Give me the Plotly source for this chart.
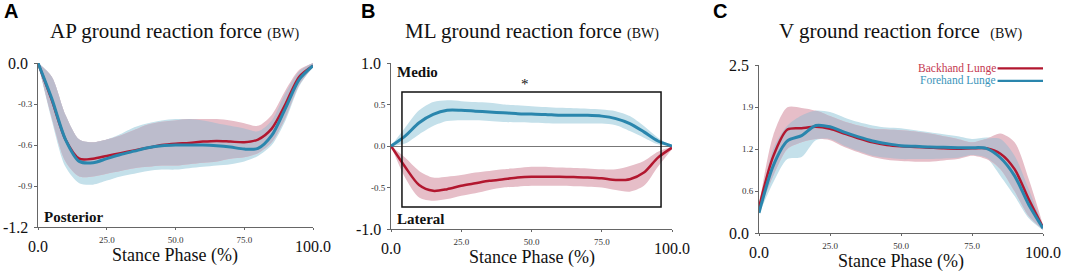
import plotly.graph_objects as go

# ---------------- data ----------------
stance = [0, 5, 10, 15, 20, 25, 30, 35, 40, 45, 50, 55, 60, 65, 70, 75, 80, 85, 90, 95, 100]

# A: AP ground reaction force (BW)
ap_back_mean = [0, -0.27, -0.56, -0.70, -0.70, -0.68, -0.66, -0.64, -0.62, -0.60, -0.59, -0.585, -0.575, -0.57, -0.575, -0.58, -0.56, -0.48, -0.30, -0.10, -0.02]
ap_back_up = [0, -0.10, -0.38, -0.56, -0.58, -0.56, -0.53, -0.49, -0.45, -0.43, -0.42, -0.41, -0.41, -0.41, -0.42, -0.44, -0.46, -0.38, -0.20, -0.05, 0]
ap_back_lo = [0, -0.40, -0.72, -0.83, -0.83, -0.81, -0.79, -0.77, -0.76, -0.75, -0.75, -0.74, -0.73, -0.72, -0.70, -0.69, -0.66, -0.58, -0.40, -0.16, -0.03]
ap_fore_mean = [0, -0.26, -0.56, -0.72, -0.73, -0.70, -0.67, -0.645, -0.62, -0.605, -0.60, -0.60, -0.60, -0.605, -0.615, -0.63, -0.625, -0.53, -0.33, -0.12, -0.02]
ap_fore_up = [0, -0.10, -0.38, -0.56, -0.58, -0.56, -0.52, -0.47, -0.44, -0.42, -0.41, -0.41, -0.42, -0.44, -0.46, -0.48, -0.50, -0.42, -0.22, -0.06, 0]
ap_fore_lo = [0, -0.42, -0.76, -0.88, -0.89, -0.86, -0.83, -0.81, -0.79, -0.78, -0.78, -0.77, -0.76, -0.75, -0.74, -0.72, -0.68, -0.60, -0.42, -0.17, -0.03]

# B: ML ground reaction force (BW)
ml_back_mean = [0, -0.25, -0.47, -0.54, -0.52, -0.48, -0.45, -0.42, -0.40, -0.38, -0.37, -0.37, -0.37, -0.375, -0.38, -0.39, -0.41, -0.40, -0.32, -0.14, -0.02]
ml_back_up = [0, -0.14, -0.30, -0.38, -0.37, -0.35, -0.32, -0.30, -0.28, -0.265, -0.25, -0.25, -0.26, -0.265, -0.27, -0.28, -0.28, -0.24, -0.18, -0.07, -0.01]
ml_back_lo = [0, -0.38, -0.62, -0.66, -0.64, -0.60, -0.57, -0.53, -0.50, -0.49, -0.48, -0.48, -0.48, -0.485, -0.49, -0.50, -0.53, -0.55, -0.48, -0.25, -0.04]
ml_fore_mean = [0, 0.12, 0.28, 0.38, 0.43, 0.43, 0.42, 0.41, 0.40, 0.39, 0.385, 0.38, 0.37, 0.37, 0.37, 0.36, 0.33, 0.27, 0.17, 0.06, 0.0]
ml_fore_up = [0, 0.22, 0.43, 0.53, 0.55, 0.54, 0.53, 0.52, 0.50, 0.49, 0.48, 0.47, 0.46, 0.455, 0.45, 0.44, 0.42, 0.36, 0.24, 0.10, 0]
ml_fore_lo = [0, 0.03, 0.14, 0.24, 0.30, 0.31, 0.31, 0.30, 0.29, 0.285, 0.28, 0.275, 0.27, 0.27, 0.27, 0.27, 0.25, 0.18, 0.10, 0.02, 0]

# C: V ground reaction force (BW)
v_back_mean = [0.38, 1.14, 1.54, 1.56, 1.58, 1.55, 1.48, 1.41, 1.35, 1.31, 1.29, 1.28, 1.27, 1.26, 1.255, 1.26, 1.26, 1.18, 0.95, 0.50, 0.08]
v_back_up = [0.40, 1.45, 1.87, 1.86, 1.82, 1.74, 1.66, 1.60, 1.55, 1.54, 1.53, 1.51, 1.48, 1.44, 1.40, 1.35, 1.40, 1.48, 1.35, 0.80, 0.12]
v_back_lo = [0.35, 0.85, 1.25, 1.35, 1.40, 1.38, 1.28, 1.20, 1.13, 1.09, 1.07, 1.06, 1.06, 1.08, 1.10, 1.15, 1.10, 0.95, 0.62, 0.25, 0.05]
v_fore_mean = [0.30, 1.00, 1.37, 1.45, 1.60, 1.58, 1.50, 1.43, 1.37, 1.33, 1.30, 1.29, 1.28, 1.275, 1.27, 1.27, 1.26, 1.12, 0.85, 0.42, 0.07]
v_fore_up = [0.32, 1.25, 1.60, 1.75, 1.82, 1.80, 1.72, 1.65, 1.60, 1.57, 1.56, 1.53, 1.50, 1.47, 1.44, 1.40, 1.42, 1.40, 1.15, 0.65, 0.10]
v_fore_lo = [0.28, 0.75, 1.10, 1.13, 1.38, 1.40, 1.30, 1.22, 1.15, 1.12, 1.10, 1.10, 1.10, 1.11, 1.12, 1.16, 1.12, 0.85, 0.55, 0.22, 0.04]

x_ticks = [0, 25, 50, 75, 100]
x_ticktext = ["0.0", "25.0", "50.0", "75.0", "100.0"]
ap_ticks = [0, -0.3, -0.6, -0.9, -1.2]
ap_ticktext = ["0.0", "-0.3", "-0.6", "-0.9", "-1.2"]
ml_ticks = [1.0, 0.5, 0.0, -0.5, -1.0]
ml_ticktext = ["1.0", "0.5", "0.0", "-0.5", "-1.0"]
v_ticks = [0, 0.625, 1.25, 1.875, 2.5]
v_ticktext = ["0.0", "0.6", "1.2", "1.9", "2.5"]

series_names = ["Backhand Lunge", "Forehand Lunge"]
titles = ["AP ground reaction force", "ML ground reaction force", "V ground reaction force "]
panel_letters = ["A", "B", "C"]

# ---------------- style ----------------
RED = "#b2172f"
BLUE = "#2a86ad"
RED_FILL = "rgb(230,190,200)"
BLUE_FILL = "rgb(196,224,234)"
OVER_FILL = "rgb(188,188,204)"
SERIF = "Liberation Serif"
SANS = "Liberation Sans"
AXC = "#666666"

W, H = 1065, 272
def px_x(p): return p / W
def px_y(p): return 1 - p / H

domains = [
    dict(x=[px_x(38), px_x(313)], y=[px_y(227), px_y(63)]),
    dict(x=[px_x(391), px_x(672)], y=[px_y(229), px_y(63)]),
    dict(x=[px_x(759), px_x(1043)], y=[px_y(233), px_y(65)]),
]
panels = [
    (ap_back_mean, ap_back_up, ap_back_lo, ap_fore_mean, ap_fore_up, ap_fore_lo, [-1.2, 0], ap_ticks, ap_ticktext),
    (ml_back_mean, ml_back_up, ml_back_lo, ml_fore_mean, ml_fore_up, ml_fore_lo, [-1.0, 1.0], ml_ticks, ml_ticktext),
    (v_back_mean, v_back_up, v_back_lo, v_fore_mean, v_fore_up, v_fore_lo, [0, 2.5], v_ticks, v_ticktext),
]

fig = go.Figure()
annotations = []
shapes = []
SPL = dict(shape="spline", smoothing=0.8)

def add_band(up, lo, color, xa, ya):
    fig.add_trace(go.Scatter(x=stance, y=up, xaxis=xa, yaxis=ya, mode="lines",
                             line=dict(width=0, **SPL), showlegend=False, hoverinfo="skip"))
    fig.add_trace(go.Scatter(x=stance, y=lo, xaxis=xa, yaxis=ya, mode="lines",
                             line=dict(width=0, **SPL), fill="tonexty", fillcolor=color,
                             showlegend=False, hoverinfo="skip"))

for i, (bm, bu, bl, fm, fu, fl, yr, yt, ytt) in enumerate(panels):
    n = "" if i == 0 else str(i + 1)
    xa, ya = "x" + n, "y" + n
    add_band(fu, fl, BLUE_FILL, xa, ya)
    add_band(bu, bl, RED_FILL, xa, ya)
    # region where both SD bands overlap
    ov_up = [min(a, b) for a, b in zip(bu, fu)]
    ov_lo = [max(a, b) for a, b in zip(bl, fl)]
    if sum(u > l for u, l in zip(ov_up, ov_lo)) > len(stance) // 2:
        ov_lo = [min(u, l) for u, l in zip(ov_up, ov_lo)]
        add_band(ov_up, ov_lo, OVER_FILL, xa, ya)
    fig.add_trace(go.Scatter(x=stance, y=bm, xaxis=xa, yaxis=ya, mode="lines",
                             line=dict(color=RED, width=2.5, **SPL),
                             name=series_names[0], showlegend=False))
    fig.add_trace(go.Scatter(x=stance, y=fm, xaxis=xa, yaxis=ya, mode="lines",
                             line=dict(color=BLUE, width=3, **SPL),
                             name=series_names[1], showlegend=False))

    small_xt = [t if k not in (0, len(x_ticktext) - 1) else "" for k, t in enumerate(x_ticktext)]
    small_yt = [t if k not in (0, len(ytt) - 1) else "" for k, t in enumerate(ytt)]
    fig.update_layout(**{
        "xaxis" + n: dict(domain=domains[i]["x"], range=[0, 100], anchor=ya,
                          showline=True, linecolor=AXC, linewidth=1, showgrid=False, zeroline=False,
                          ticks="outside", ticklen=2, tickcolor=AXC,
                          tickvals=x_ticks, ticktext=small_xt,
                          tickfont=dict(family=SERIF, size=9, color="#333333"), ticklabelstandoff=2),
        "yaxis" + n: dict(domain=domains[i]["y"], range=yr, anchor=xa,
                          showline=True, linecolor=AXC, linewidth=1, showgrid=False,
                          zeroline=(i == 1), zerolinecolor="#777777", zerolinewidth=1,
                          ticks="outside", ticklen=3, tickcolor=AXC,
                          tickvals=yt, ticktext=small_yt,
                          tickfont=dict(family=SERIF, size=9, color="#333333")),
    })
    xdom, ydom = xa + " domain", ya + " domain"
    for k in (0, len(x_ticks) - 1):
        annotations.append(dict(x=x_ticks[k], y=0, xref=xa, yref=ydom, text=x_ticktext[k],
                                showarrow=False, yanchor="top", yshift=-9,
                                font=dict(family=SERIF, size=16, color="#111111")))
    for k in (0, len(yt) - 1):
        annotations.append(dict(x=0, y=yt[k], xref=xdom, yref=ya, text=ytt[k],
                                showarrow=False, xanchor="right", xshift=-8,
                                font=dict(family=SERIF, size=16, color="#111111")))
    annotations.append(dict(x=0.5, y=0, xref=xdom, yref=ydom, text="Stance Phase (%)",
                            showarrow=False, yanchor="top", yshift=-16,
                            font=dict(family=SERIF, size=18, color="#111111")))
    annotations.append(dict(x=0.5, y=1, xref=xdom, yref="paper", yanchor="middle", yshift=-31,
                            text=titles[i] + " <span style='font-size:14px'>(BW)</span>",
                            showarrow=False, font=dict(family=SERIF, size=21, color="#111111")))

letter_x = [2, 359, 711]
for L, lx in zip(panel_letters, letter_x):
    annotations.append(dict(x=lx / W, y=1, xref="paper", yref="paper", xanchor="left", yanchor="top",
                            yshift=2, text="<b>" + L + "</b>", showarrow=False,
                            font=dict(family=SANS, size=20, color="#000000")))

annotations.append(dict(x=0.015, y=0, xref="x domain", yref="y domain", xanchor="left", yanchor="bottom",
                        yshift=0, text="<b>Posterior</b>", showarrow=False,
                        font=dict(family=SERIF, size=15, color="#111111")))
annotations.append(dict(x=0.015, y=1, xref="x2 domain", yref="y2 domain", xanchor="left", yanchor="top",
                        yshift=1, text="<b>Medio</b>", showarrow=False,
                        font=dict(family=SERIF, size=15, color="#111111")))
annotations.append(dict(x=0.015, y=0, xref="x2 domain", yref="y2 domain", xanchor="left", yanchor="bottom",
                        yshift=0, text="<b>Lateral</b>", showarrow=False,
                        font=dict(family=SERIF, size=15, color="#111111")))
shapes.append(dict(type="rect", xref="x2", yref="y2", x0=3.9, x1=96.1, y0=-0.735, y1=0.65,
                   line=dict(color="#111111", width=1.5), fillcolor="rgba(0,0,0,0)"))
annotations.append(dict(x=47.7, y=0.65, xref="x2", yref="y2", yanchor="bottom", yshift=-2,
                        text="*", showarrow=False, font=dict(family=SERIF, size=15, color="#111111")))

leg_colors = [("#c4384f", RED), ("#3b95ba", BLUE)]
leg_y = [0.98, 0.905]
for name, (tc, lc), ly in zip(series_names, leg_colors, leg_y):
    shapes.append(dict(type="line", xref="x3 domain", yref="y3 domain", x0=0.84, x1=1.0, y0=ly, y1=ly,
                       line=dict(color=lc, width=2.2)))
    annotations.append(dict(x=0.84, y=ly, xref="x3 domain", yref="y3 domain", xanchor="right",
                            yanchor="middle", text=name, showarrow=False,
                            font=dict(family=SERIF, size=11.5, color=tc)))

fig.update_layout(width=W, height=H, margin=dict(l=0, r=0, t=0, b=0),
                  paper_bgcolor="white", plot_bgcolor="white",
                  annotations=annotations, shapes=shapes, showlegend=False)

fig.write_html("out.html", config={"displayModeBar": False},
               post_script="document.body.style.margin='0px';document.body.style.overflow='hidden';")
